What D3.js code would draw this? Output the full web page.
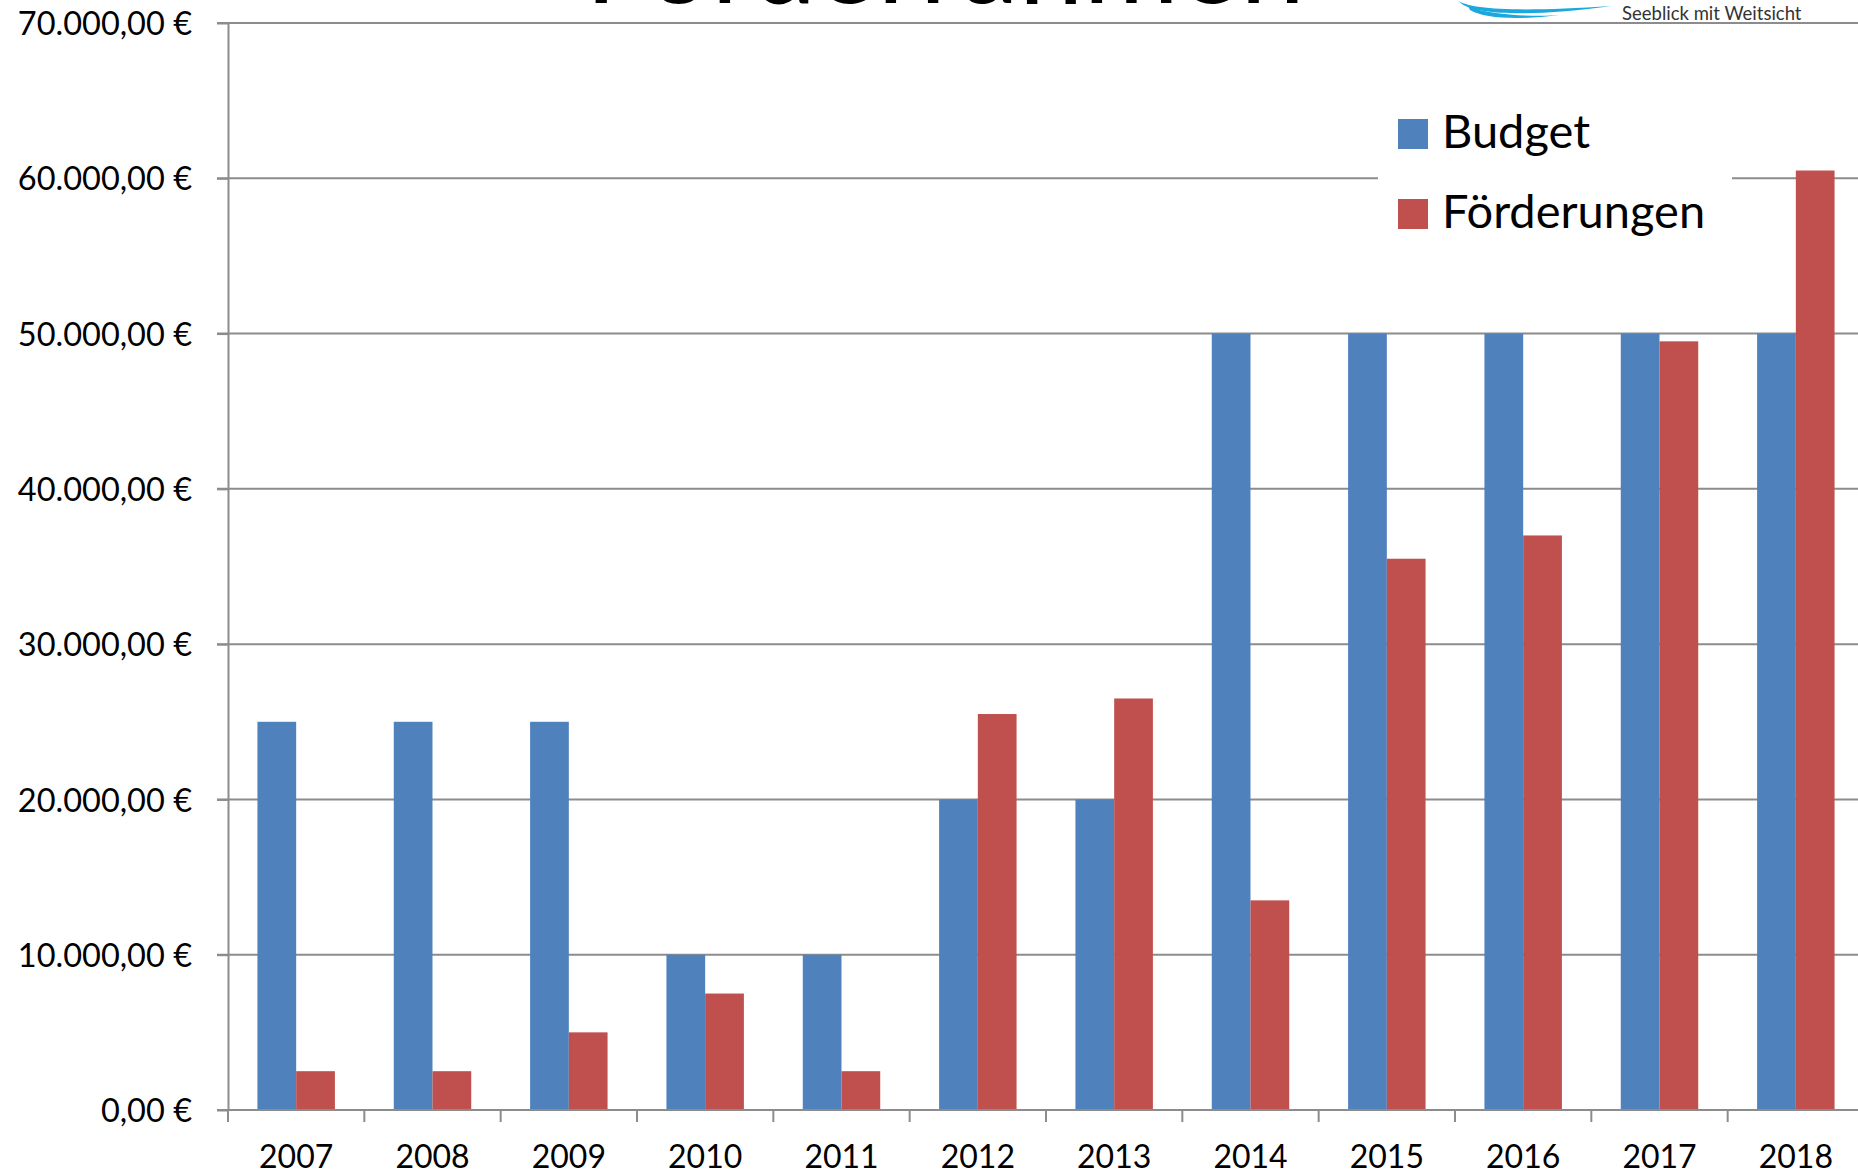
<!DOCTYPE html>
<meta charset="utf-8">

<script src="https://d3js.org/d3.v7.min.js"></script>

<style type="text/css">

body {
  margin:0;
  background:#fff;
}

svg text {
  font-family: Lato, "Open Sans", sans-serif;
}

.axis .domain {
  stroke:#8c8c8c;
  stroke-width:2px;
}

.axis .tick line {
  stroke:#8c8c8c;
  stroke-width:2px;
}

.axis text {
  font-size:32px;
  fill:#000;
}

.y.axis text {
  font-size:32.5px;
}

.grid line {
  stroke:#8c8c8c;
  stroke-width:2px;
}

</style>

<body>
</body>

<script>

var years = ["2007","2008","2009","2010","2011","2012","2013","2014","2015","2016","2017","2018"];
var budget = [25000,25000,25000,10000,10000,20000,20000,50000,50000,50000,50000,50000];
var foerderungen = [2500,2500,5000,7500,2500,25500,26500,13500,35500,37000,49500,60500];
var seriesNames = ["Budget","Förderungen"];
var seriesColors = ["#4f81bd","#c0504d"];
var yTicks = [0,10000,20000,30000,40000,50000,60000,70000];

var data = years.map(function(y,i) {
  return {year:y, values:[budget[i], foerderungen[i]]};
});

//variable definitions
var W = 1858, H = 1175;
var margin = {top: 23, left: 228, bottom: 65};
var width = 1636,
    height = H - margin.top - margin.bottom;

var de = d3.formatLocale({decimal:",", thousands:".", grouping:[3], currency:[""," €"]});
var fmt = de.format("$,.2f");

var svg = d3.select('body').append('svg')
  .attr('width',W)
  .attr('height',H);

var g = svg.append('g')
  .attr("transform", "translate(" + margin.left + "," + margin.top + ")");

//scales
var x0 = d3.scaleBand()
  .domain(years)
  .range([0,width])
  .padding(0);

var x1 = d3.scaleBand()
  .domain(seriesNames)
  .range([0,x0.bandwidth()])
  .paddingInner(0)
  .paddingOuter(0.76);

var yScale = d3.scaleLinear()
  .domain([0,70000])
  .range([height,0]);

//gridlines
g.append('g')
  .attr('class','grid')
  .selectAll('line')
  .data(yTicks)
  .enter().append('line')
  .attr('x1',-11)
  .attr('x2',width)
  .attr('y1',function(d){return yScale(d)})
  .attr('y2',function(d){return yScale(d)});

//bars
var yearGroup = g.selectAll('.yearGroup')
  .data(data)
  .enter().append('g')
  .attr('class','yearGroup')
  .attr('transform',function(d){return 'translate('+x0(d.year)+',0)'});

yearGroup.selectAll('rect')
  .data(function(d){return d.values.map(function(v,i){return {name:seriesNames[i], value:v, i:i}})})
  .enter().append('rect')
  .attr('x',function(d){return x1(d.name)})
  .attr('width',x1.bandwidth())
  .attr('y',function(d){return yScale(d.value)})
  .attr('height',function(d){return height - yScale(d.value)})
  .attr('fill',function(d){return seriesColors[d.i]});

//axes
var yAxis = d3.axisLeft(yScale)
  .tickValues(yTicks)
  .tickFormat(fmt)
  .tickSizeInner(11)
  .tickSizeOuter(0)
  .tickPadding(25);

g.append('g')
  .attr('class','y axis')
  .call(yAxis)
  .selectAll('text')
  .attr('dy','0.36em');

var xAxis = d3.axisBottom(x0)
  .tickSize(0)
  .tickPadding(35);

var xg = g.append('g')
  .attr('class','x axis')
  .attr('transform','translate(0,'+height+')')
  .call(xAxis);

xg.select('.domain').attr('d','M0,0H'+width);

//tick marks between categories
xg.selectAll('.sep')
  .data(years)
  .enter().append('line')
  .attr('class','sep')
  .attr('x1',function(d){return x0(d)})
  .attr('x2',function(d){return x0(d)})
  .attr('y1',0)
  .attr('y2',12)
  .attr('stroke','#8c8c8c')
  .attr('stroke-width',2);

//legend
var legend = svg.append('g')
  .attr('class','legend');

legend.append('rect')
  .attr('x',1378)
  .attr('y',80)
  .attr('width',354)
  .attr('height',165)
  .attr('fill','#fff');

var li = legend.selectAll('.item')
  .data(seriesNames)
  .enter().append('g')
  .attr('class','item')
  .attr('transform',function(d,i){return 'translate(1398,'+(119+i*80)+')'});

li.append('rect')
  .attr('width',30)
  .attr('height',30)
  .attr('fill',function(d,i){return seriesColors[i]});

li.append('text')
  .attr('x',44)
  .attr('y',29)
  .style('font-size','47px')
  .text(function(d){return d});

//title (cut off at the top, as in the original)
svg.append('text')
  .attr('x',945)
  .attr('y',3)
  .attr('text-anchor','middle')
  .style('font-size','116px')
  .text('Förderrahmen');

//logo
var logo = svg.append('g');
logo.append('path')
  .attr('d','M1457,0 C1470,10 1520,12 1612,6 C1540,16 1480,16 1462,4 Z')
  .attr('fill','#1ba8de');
logo.append('path')
  .attr('d','M1468,6 C1490,16 1540,17 1560,15 C1520,20 1485,19 1470,10 Z')
  .attr('fill','#1ba8de');
logo.append('text')
  .attr('x',1622)
  .attr('y',20)
  .style('font-size','18.5px')
  .attr('fill','#333')
  .text('Seeblick mit Weitsicht');

</script>
